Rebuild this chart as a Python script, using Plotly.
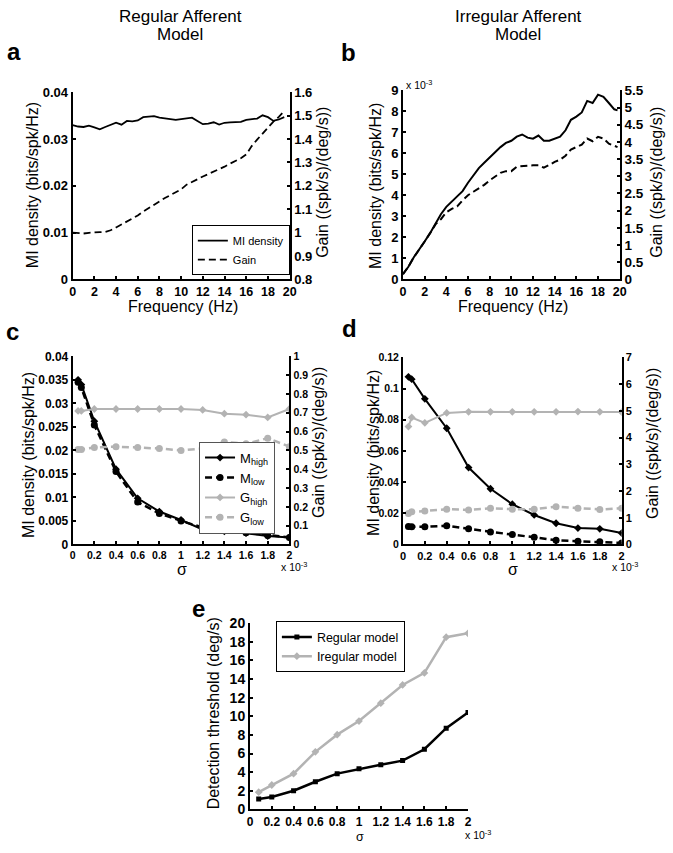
import plotly.graph_objects as go

W, H = 673, 853
FONT = "Arial, Liberation Sans, sans-serif"
GRAY = "#b3b3b3"

# ---------------- data ----------------
# Panel a (regular afferent): frequency (Hz), MI density, gain
freq_a = [0, 0.5, 1, 1.5, 2, 2.5, 3, 3.5, 4, 4.5, 5, 5.5, 6, 6.5, 7, 7.5, 8, 8.5, 9, 9.5,
          10, 10.5, 11, 11.5, 12, 12.5, 13, 13.5, 14, 14.5, 15, 15.5, 16, 16.5, 17, 17.5,
          18, 18.5, 19, 19.5]
mi_a = [0.0330, 0.0327, 0.0326, 0.0329, 0.0325, 0.0321, 0.0326, 0.0331, 0.0335, 0.0331,
        0.0339, 0.0338, 0.0340, 0.0347, 0.0348, 0.0349, 0.0346, 0.0344, 0.0342, 0.0341,
        0.0343, 0.0344, 0.0346, 0.0339, 0.0332, 0.0333, 0.0336, 0.0331, 0.0335, 0.0336,
        0.0337, 0.0337, 0.0341, 0.0342, 0.0344, 0.0351, 0.0347, 0.0339, 0.0342, 0.0347]
gain_a = [1.000, 0.998, 0.996, 0.999, 1.002, 1.002, 1.003, 1.010, 1.022, 1.035, 1.050, 1.060,
          1.073, 1.090, 1.105, 1.120, 1.133, 1.148, 1.160, 1.172, 1.185, 1.205, 1.218, 1.228,
          1.240, 1.250, 1.262, 1.272, 1.282, 1.295, 1.305, 1.318, 1.335, 1.370, 1.398, 1.425,
          1.450, 1.475, 1.495, 1.520]

# Panel b (irregular afferent): MI density in units of 1e-3
freq_b = [0, 0.5, 1, 1.5, 2, 2.5, 3, 3.5, 4, 4.5, 5, 5.5, 6, 6.5, 7, 7.5, 8, 8.5, 9, 9.5,
          10, 10.5, 11, 11.5, 12, 12.5, 13, 13.5, 14, 14.5, 15, 15.5, 16, 16.5, 17, 17.5,
          18, 18.5, 19, 19.5, 19.8]
mi_b = [0.25, 0.6, 1.05, 1.4, 1.8, 2.2, 2.65, 3.1, 3.45, 3.7, 3.95, 4.2, 4.6, 4.95, 5.3,
        5.55, 5.8, 6.05, 6.3, 6.5, 6.6, 6.8, 6.9, 6.75, 6.7, 6.85, 6.6, 6.6, 6.7, 6.8,
        7.1, 7.6, 7.75, 7.95, 8.5, 8.4, 8.8, 8.7, 8.4, 8.1, 8.05]
gain_b = [0.15, 0.37, 0.64, 0.86, 1.1, 1.34, 1.6, 1.75, 1.95, 2.05, 2.12, 2.3, 2.45, 2.55,
          2.65, 2.75, 2.88, 3.0, 3.1, 3.15, 3.15, 3.28, 3.3, 3.3, 3.32, 3.32, 3.25, 3.33,
          3.42, 3.48, 3.6, 3.78, 3.85, 3.92, 4.1, 4.02, 4.15, 4.1, 3.95, 3.88, 3.85]

# Panels c, d: sigma in units of 1e-3
sigma = [0.05, 0.08, 0.2, 0.4, 0.6, 0.8, 1.0, 1.2, 1.4, 1.6, 1.8, 2.0]
m_high_c = [0.0350, 0.0340, 0.0262, 0.0160, 0.0098, 0.0070, 0.0052, 0.0032, 0.0028, 0.0024, 0.0018, 0.0015]
m_low_c = [0.0345, 0.0334, 0.0254, 0.0155, 0.0090, 0.0066, 0.0050, 0.0036, 0.0030, 0.0025, 0.0019, 0.0015]
g_high_c = [0.71, 0.71, 0.72, 0.72, 0.72, 0.72, 0.72, 0.715, 0.695, 0.69, 0.675, 0.72]
g_low_c = [0.505, 0.505, 0.515, 0.52, 0.515, 0.51, 0.50, 0.51, 0.545, 0.535, 0.565, 0.52]

m_high_d = [0.1075, 0.106, 0.0934, 0.0745, 0.0493, 0.0357, 0.0258, 0.0189, 0.0136, 0.0105, 0.0100, 0.0073]
m_low_d = [0.0115, 0.0113, 0.0113, 0.0120, 0.0100, 0.0080, 0.0063, 0.0046, 0.0027, 0.0020, 0.0017, 0.0010]
g_high_d = [4.41, 4.75, 4.55, 4.92, 4.96, 4.96, 4.96, 4.96, 4.96, 4.97, 4.96, 4.95]
g_low_d = [1.16, 1.22, 1.25, 1.32, 1.29, 1.35, 1.32, 1.32, 1.41, 1.35, 1.31, 1.35]

# Panel e: detection threshold (deg/s)
sigma_e = [0.08, 0.2, 0.4, 0.6, 0.8, 1.0, 1.2, 1.4, 1.6, 1.8, 2.0]
thr_regular = [1.12, 1.33, 2.0, 2.97, 3.84, 4.36, 4.8, 5.24, 6.46, 8.73, 10.4]
thr_irregular = [1.85, 2.62, 3.84, 6.18, 8.03, 9.49, 11.41, 13.37, 14.66, 18.5, 18.92]

# ---------------- layout helpers ----------------
def px_x(a, b):
    return [a / W, b / W]

def px_y(top, bottom):
    return [1 - bottom / H, 1 - top / H]

def axis(size, **kw):
    d = dict(showline=True, linecolor="black", linewidth=2, ticks="inside",
             ticklen=3, tickwidth=1.5, tickcolor="black", showgrid=False,
             zeroline=False, fixedrange=True,
             tickfont=dict(family=FONT, size=size, color="black", weight="bold"))
    d.update(kw)
    return d

fig = go.Figure()

# ---- panel a ----
fig.add_trace(go.Scatter(x=freq_a, y=mi_a, mode="lines", name="MI density",
                         line=dict(color="black", width=1.8), xaxis="x", yaxis="y",
                         legend="legend"))
fig.add_trace(go.Scatter(x=freq_a, y=gain_a, mode="lines", name="Gain",
                         line=dict(color="black", width=1.8, dash="7px,4px"),
                         xaxis="x", yaxis="y2", legend="legend"))
# ---- panel b ----
fig.add_trace(go.Scatter(x=freq_b, y=mi_b, mode="lines", showlegend=False,
                         line=dict(color="black", width=2), xaxis="x2", yaxis="y3"))
fig.add_trace(go.Scatter(x=freq_b, y=gain_b, mode="lines", showlegend=False,
                         line=dict(color="black", width=2, dash="7px,4px"),
                         xaxis="x2", yaxis="y4"))
# ---- panel c ----
fig.add_trace(go.Scatter(x=sigma, y=m_high_c, mode="lines+markers", name="M<sub>high</sub>",
                         line=dict(color="black", width=2),
                         marker=dict(symbol="diamond", size=6, color="black"),
                         xaxis="x3", yaxis="y5", legend="legend2"))
fig.add_trace(go.Scatter(x=sigma, y=m_low_c, mode="lines+markers", name="M<sub>low</sub>",
                         line=dict(color="black", width=2.5, dash="7px,4px"),
                         marker=dict(symbol="circle", size=7, color="black"),
                         xaxis="x3", yaxis="y5", legend="legend2"))
fig.add_trace(go.Scatter(x=sigma, y=g_high_c, mode="lines+markers", name="G<sub>high</sub>",
                         line=dict(color=GRAY, width=2),
                         marker=dict(symbol="diamond", size=6, color=GRAY),
                         xaxis="x3", yaxis="y6", legend="legend2"))
fig.add_trace(go.Scatter(x=sigma, y=g_low_c, mode="lines+markers", name="G<sub>low</sub>",
                         line=dict(color=GRAY, width=2.5, dash="7px,4px"),
                         marker=dict(symbol="circle", size=7, color=GRAY),
                         xaxis="x3", yaxis="y6", legend="legend2"))
# ---- panel d ----
fig.add_trace(go.Scatter(x=sigma, y=m_high_d, mode="lines+markers", showlegend=False,
                         line=dict(color="black", width=2),
                         marker=dict(symbol="diamond", size=6, color="black"),
                         xaxis="x4", yaxis="y7"))
fig.add_trace(go.Scatter(x=sigma, y=m_low_d, mode="lines+markers", showlegend=False,
                         line=dict(color="black", width=2.5, dash="7px,4px"),
                         marker=dict(symbol="circle", size=7, color="black"),
                         xaxis="x4", yaxis="y7"))
fig.add_trace(go.Scatter(x=sigma, y=g_high_d, mode="lines+markers", showlegend=False,
                         line=dict(color=GRAY, width=2),
                         marker=dict(symbol="diamond", size=6, color=GRAY),
                         xaxis="x4", yaxis="y8"))
fig.add_trace(go.Scatter(x=sigma, y=g_low_d, mode="lines+markers", showlegend=False,
                         line=dict(color=GRAY, width=2.5, dash="7px,4px"),
                         marker=dict(symbol="circle", size=7, color=GRAY),
                         xaxis="x4", yaxis="y8"))
# ---- panel e ----
fig.add_trace(go.Scatter(x=sigma_e, y=thr_regular, mode="lines+markers", name="Regular model",
                         line=dict(color="black", width=2.5),
                         marker=dict(symbol="square", size=5, color="black"),
                         xaxis="x5", yaxis="y9", legend="legend3"))
fig.add_trace(go.Scatter(x=sigma_e, y=thr_irregular, mode="lines+markers", name="Iregular model",
                         line=dict(color=GRAY, width=2.5),
                         marker=dict(symbol="diamond", size=6, color=GRAY),
                         xaxis="x5", yaxis="y9", legend="legend3"))

# domains (pixel based)
dom_a_x, dom_a_y = px_x(70.7, 291), px_y(86, 276.5)
dom_b_x, dom_b_y = px_x(406, 626), px_y(84, 276.5)
dom_c_x, dom_c_y = px_x(70.7, 290.7), px_y(355, 546.7)
dom_d_x, dom_d_y = px_x(406, 628), px_y(356, 546.7)
dom_e_x, dom_e_y = px_x(250.7, 472), px_y(627, 816.7)

layout = dict(
    width=W, height=H, autosize=False,
    margin=dict(l=0, r=0, t=0, b=0, pad=0),
    paper_bgcolor="white", plot_bgcolor="white",
    font=dict(family=FONT, color="black"),
    # panel a
    xaxis=axis(12.5, domain=dom_a_x, anchor="y", range=[0, 20], dtick=2, tick0=0),
    yaxis=axis(13, domain=dom_a_y, anchor="x", range=[0, 0.04], dtick=0.01, tick0=0),
    yaxis2=axis(13, overlaying="y", side="right", anchor="x", range=[0.8, 1.6], dtick=0.1, tick0=0.8),
    # panel b
    xaxis2=axis(12.5, domain=dom_b_x, anchor="y3", range=[0, 20], dtick=2, tick0=0),
    yaxis3=axis(13, domain=dom_b_y, anchor="x2", range=[0, 9], dtick=1, tick0=0),
    yaxis4=axis(13.5, overlaying="y3", side="right", anchor="x2", range=[0, 5.5], dtick=0.5, tick0=0),
    # panel c
    xaxis3=axis(10.5, domain=dom_c_x, anchor="y5", range=[0, 2], dtick=0.2, tick0=0),
    yaxis5=axis(12, domain=dom_c_y, anchor="x3", range=[0, 0.04], dtick=0.005, tick0=0),
    yaxis6=axis(10.5, overlaying="y5", side="right", anchor="x3", range=[0, 1], dtick=0.1, tick0=0),
    # panel d
    xaxis4=axis(11, domain=dom_d_x, anchor="y7", range=[0, 2], dtick=0.2, tick0=0),
    yaxis7=axis(10.5, domain=dom_d_y, anchor="x4", range=[0, 0.12], dtick=0.02, tick0=0),
    yaxis8=axis(11, overlaying="y7", side="right", anchor="x4", range=[0, 7], dtick=1, tick0=0),
    # panel e
    xaxis5=axis(12, domain=dom_e_x, anchor="y9", range=[0, 2], dtick=0.2, tick0=0),
    yaxis9=axis(14, domain=dom_e_y, anchor="x5", range=[0, 20], dtick=2, tick0=0),
    legend=dict(x=191.7 / W, y=1 - 246.7 / H, xanchor="left", yanchor="middle",
                bordercolor="black", borderwidth=1, bgcolor="white",
                font=dict(family=FONT, size=11, color="black"),
                tracegroupgap=0, itemwidth=30),
    legend2=dict(x=199 / W, y=1 - 488.8 / H, xanchor="left", yanchor="middle",
                 bordercolor="#555", borderwidth=1, bgcolor="white",
                 font=dict(family=FONT, size=13, color="black"),
                 tracegroupgap=0, itemwidth=30),
    legend3=dict(x=277 / W, y=1 - 651 / H, xanchor="left", yanchor="middle",
                 bordercolor="black", borderwidth=1, bgcolor="white",
                 font=dict(family=FONT, size=12.5, color="black"),
                 tracegroupgap=0, itemwidth=30),
    showlegend=True,
)
fig.update_layout(**layout)

# ---------------- annotations ----------------
def ann(text, x, y, size=15, angle=0, bold=False, xanchor="center", yanchor="middle", pad=1):
    t = f"<b>{text}</b>" if bold else text
    fig.add_annotation(text=t, x=x / W, y=1 - y / H, xref="paper", yref="paper",
                       showarrow=False, textangle=angle, xanchor=xanchor, yanchor=yanchor,
                       borderpad=pad, font=dict(family=FONT, size=size, color="black"))

ann("Regular Afferent", 180, 9, size=17)
ann("Model", 180, 27, size=17)
ann("Irregular Afferent", 523, 9, size=17)
ann("Model", 523, 27, size=17)
for letter, (lx, ly) in {"a": (11, 44), "b": (351, 45), "c": (10, 330),
                         "d": (352, 327), "e": (198, 612)}.items():
    ann(letter, lx, ly, size=24, bold=True)

# axis titles
ann("MI density (bits/spk/Hz)", 30, 181, size=16, angle=-90)
ann("Gain ((spk/s)/(deg/s))", 324, 178, size=16, angle=-90)
ann("Frequency (Hz)", 183, 304, size=16)
ann("MI density (bits/spk/Hz)", 378, 181, size=16, angle=-90)
ann("Gain ((spk/s)/(deg/s))", 664, 178, size=16, angle=-90)
ann("Frequency (Hz)", 518, 304, size=16)
ann("MI density (bits/spk/Hz)", 26, 456, size=16, angle=-90)
ann("Gain ((spk/s)/(deg/s))", 320, 443, size=16, angle=-90)
ann("σ", 182, 572, size=16)
ann("MI density (bits/spk/Hz)", 376, 453, size=16, angle=-90)
ann("Gain ((spk/s)/(deg/s))", 659, 444, size=16, angle=-90)
ann("σ", 518, 572, size=16)
ann("Detection threshold (deg/s)", 214, 719, size=16, angle=-90)
ann("σ", 362, 853, size=12.5, yanchor="bottom", pad=0)

# x 10^-3 multipliers
ann("x 10<sup>-3</sup>", 407, 78, size=10.5, xanchor="left")
ann("x 10<sup>-3</sup>", 280, 569, size=10.5, xanchor="left")
ann("x 10<sup>-3</sup>", 616, 569, size=10.5, xanchor="left")
ann("x 10<sup>-3</sup>", 467, 842, size=10.5, xanchor="left")

fig.write_html("out.html", config={"displayModeBar": False},
               post_script="document.body.style.margin='0';document.body.style.padding='0';"
                           "document.body.style.overflow='hidden';")
